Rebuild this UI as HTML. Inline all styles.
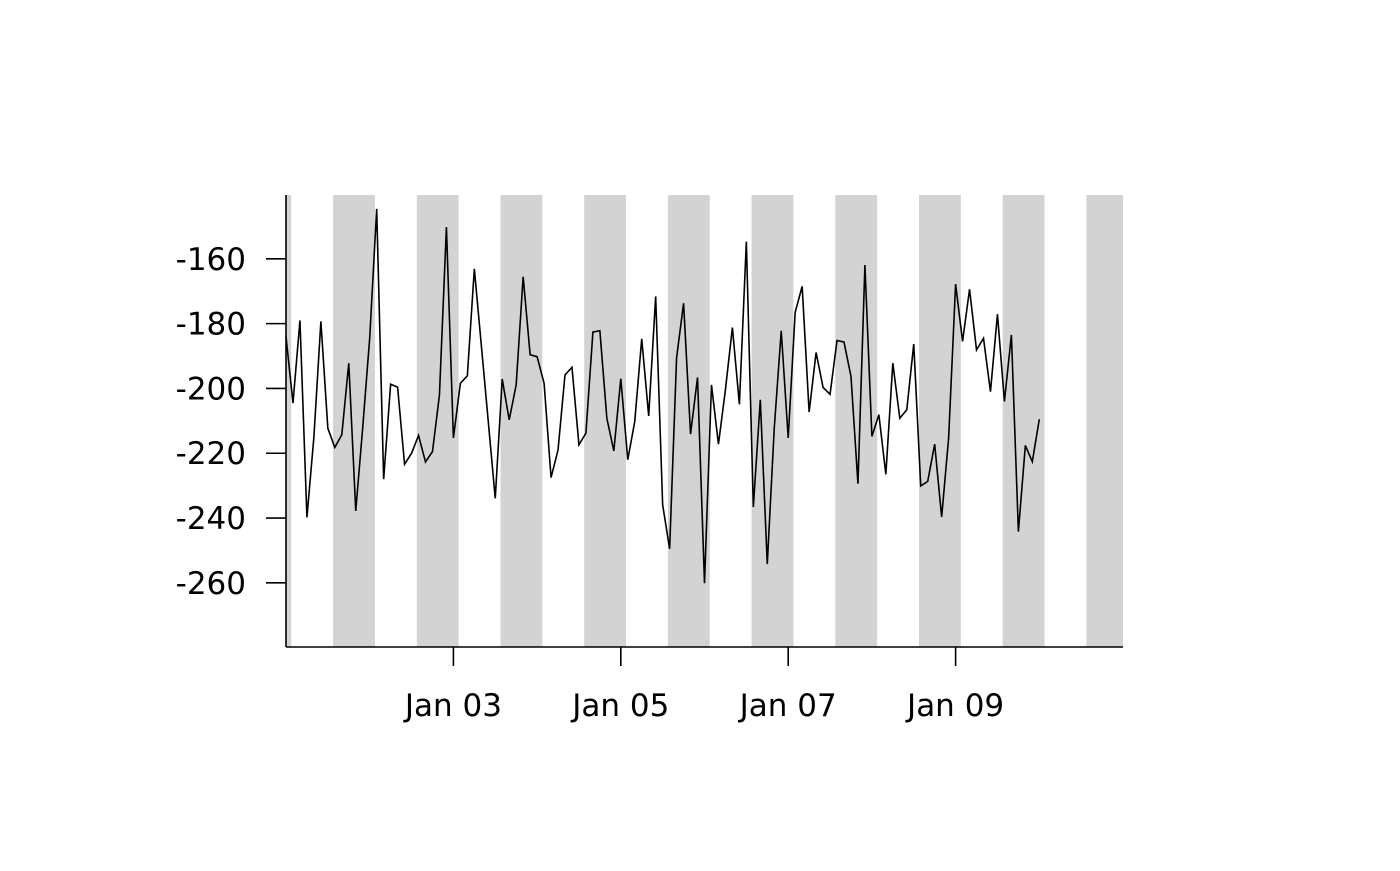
<!DOCTYPE html>
<html><head><meta charset="utf-8"><style>
html,body{margin:0;padding:0;background:#fff}
svg text{font-family:"DejaVu Sans","Liberation Sans",sans-serif;font-size:31px;fill:#000}
</style></head><body>
<svg id="chart" width="1400" height="866" viewBox="0 0 1400 866" xmlns="http://www.w3.org/2000/svg">
<g id="bands"></g>
<polyline id="line" fill="none" stroke="#000" stroke-width="1.6" stroke-linejoin="miter"/>
<g id="axes"></g>
</svg>
<script>
const values = [-184.0,-204.5,-179.0,-239.8,-215,-179.3,-212.3,-218.2,-214.3,-192.2,-237.8,-212,-184.4,-144.6,-228.0,-198.7,-199.6,-223.4,-220.0,-214.5,-222.7,-219.5,-202.0,-150.2,-215.3,-198.4,-196.1,-163.1,-186.6,-210.2,-233.9,-197.1,-209.7,-198.9,-165.5,-189.6,-190.2,
-198.4,-227.5,-219.0,-195.8,-193.5,-217.4,-213.8,-182.6,-182.2,-209.2,-219.3,-197.0,-222.0,-210.2,-184.7,-208.5,-171.6,-235.9,-249.5,-190.5,-173.7,-214.1,-196.6,-260.1,-198.9,-217.2,-200.4,-181.2,-204.9,-154.7,-236.6,-203.5,-254.2,-212.3,-182.2,-215.3,
-176.5,-168.5,-207.3,-188.9,-199.7,-201.8,-185.2,-185.7,-196.3,-229.4,-161.9,-214.8,-208.1,-226.5,-192.2,-209.2,-206.6,-186.3,-230.1,-228.7,-217.2,-239.7,-215.3,-167.8,-185.5,-169.4,-188.1,-184.5,-201.0,-177.1,-204.0,-183.5,-244.2,-217.6,-222.6,-209.5];
const stepDays = 1/12;
const yTicks = [-160,-180,-200,-220,-240,-260];
const xTickDays = [2,4,6,8];
const xTickLabels = ["Jan 03","Jan 05","Jan 07","Jan 09"];
const bandStarts = [-0.4375,0.5625,1.5625,2.5625,3.5625,4.5625,5.5625,6.5625,7.5625,8.5625,9.5625];
const bandWidth = 0.5;

const X0=286, X1=1123, D0=0, D1=10;
const Y0=647, Y1=195, V0=-279.8, V1=-140.3;
const xs = d => X0 + (d-D0)/(D1-D0)*(X1-X0);
const ys = v => Y0 + (v-V0)/(V1-V0)*(Y1-Y0);
const NS="http://www.w3.org/2000/svg";
function mk(tag, attrs, parent){const e=document.createElementNS(NS,tag);for(const k in attrs)e.setAttribute(k,attrs[k]);parent.appendChild(e);return e;}

const bands=document.getElementById('bands');
bandStarts.forEach((s,i)=>{
  const a=Math.max(s,D0), b=Math.min(s+bandWidth,D1);
  if(b<=a) return;
  const r=mk('rect',{x:xs(a),y:Y1,width:xs(b)-xs(a),height:Y0-Y1,fill:'#d3d3d3'},bands);
  
  
});

document.getElementById('line').setAttribute('points', values.map((v,i)=>xs(i*stepDays).toFixed(2)+','+ys(v).toFixed(2)).join(' '));

const axes=document.getElementById('axes');
const ya=mk('line',{x1:X0,y1:Y1,x2:X0,y2:Y0,stroke:'#000','stroke-width':1.6},axes);


const xa=mk('line',{x1:X0,y1:Y0,x2:X1,y2:Y0,stroke:'#000','stroke-width':1.6},axes);


yTicks.forEach(v=>{
  const t=mk('line',{x1:266,y1:ys(v),x2:X0,y2:ys(v),stroke:'#000','stroke-width':1.6},axes);
  
  
  const l=mk('text',{x:246,y:ys(v)+11,'text-anchor':'end'},axes);
  l.textContent=String(v);
  
  
});
xTickDays.forEach((d,i)=>{
  const t=mk('line',{x1:xs(d),y1:Y0,x2:xs(d),y2:666,stroke:'#000','stroke-width':1.6},axes);
  
  
  const l=mk('text',{x:xs(d),y:716,'text-anchor':'middle'},axes);
  l.textContent=xTickLabels[i];
  
  
});
</script>
</body></html>
